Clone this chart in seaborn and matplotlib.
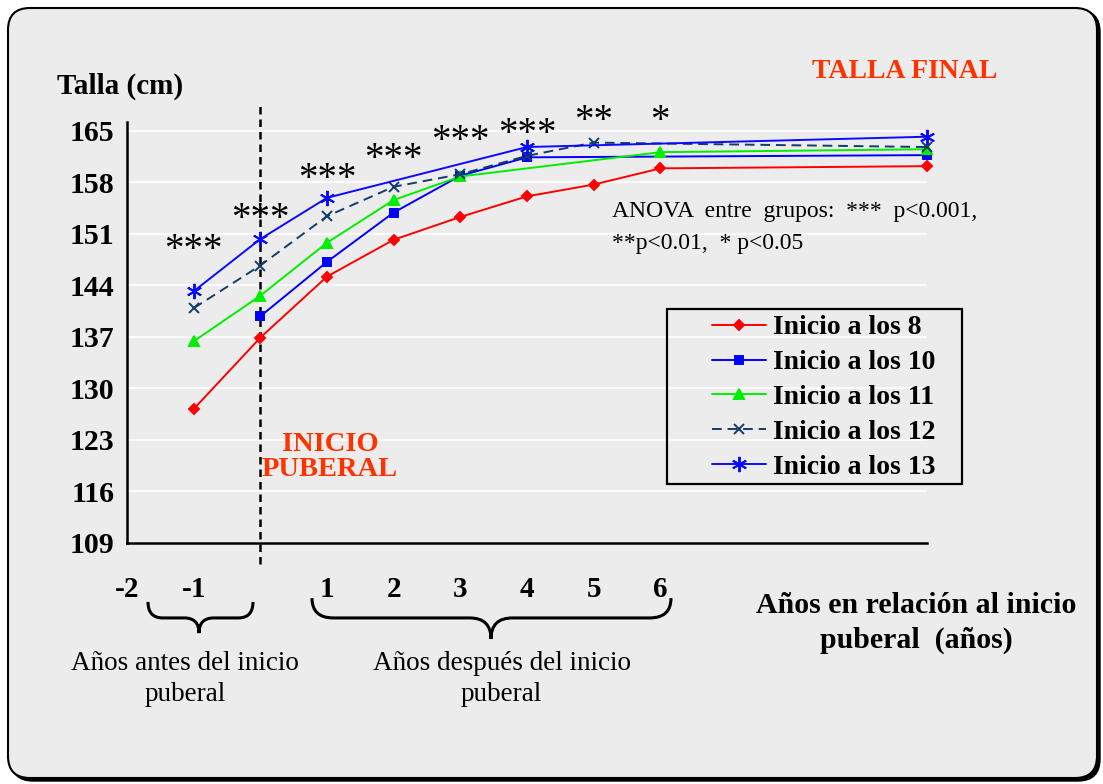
import numpy as np
import pandas as pd
import matplotlib
matplotlib.use("Agg")
import matplotlib.pyplot as plt
import seaborn as sns
from matplotlib.patches import FancyBboxPatch, Rectangle, PathPatch
from matplotlib.path import Path
import matplotlib.transforms as mtransforms

# ---------------- data ----------------
years = [-1, 0, 1, 2, 3, 4, 5, 6, 10]   # 10 = talla final
nan = np.nan
inicio_8 = [127.2, 136.9, 145.2, 150.2, 153.3, 156.1, 157.7, 159.9, 160.2]
inicio_10 = [nan, 139.8, 147.2, 153.9, 158.9, 161.4, nan, nan, 161.7]
inicio_11 = [136.4, 142.6, 149.8, 155.6, 158.8, nan, nan, 162.1, 162.5]
inicio_12 = [140.9, 146.7, 153.4, 157.4, 159.1, 161.6, 163.4, nan, 162.8]
inicio_13 = [143.2, 150.3, 155.9, nan, nan, 162.8, nan, nan, 164.2]

series_names = ["Inicio a los 8", "Inicio a los 10", "Inicio a los 11",
                "Inicio a los 12", "Inicio a los 13"]
y_ticks = [109, 116, 123, 130, 137, 144, 151, 158, 165]
x_label_pos = [-2, -1, 1, 2, 3, 4, 5, 6]
x_label_txt = ["-2", "-1", "1", "2", "3", "4", "5", "6"]
sig_x = [-1, 0, 1, 2, 3, 4, 5, 6]
sig_txt = ["***", "***", "***", "***", "***", "***", "**", "*"]
sig_y = [148.8, 153.0, 158.4, 161.1, 163.5, 164.5, 166.2, 166.2]

# ---------------- style ----------------
sns.set_theme(style="white")
plt.rcParams["font.family"] = ["Liberation Serif", "DejaVu Serif"]
plt.rcParams["text.color"] = "black"
plt.rcParams["axes.labelcolor"] = "black"
plt.rcParams["xtick.color"] = "black"
plt.rcParams["ytick.color"] = "black"

BG = "#ECECEC"
fig = plt.figure(figsize=(11.03, 7.84), dpi=100)
fig.patch.set_facecolor("white")

# rounded frame with shadow (inches)
shadow = FancyBboxPatch((0.11, 0.03), 10.89, 7.71,
                        boxstyle="round,pad=0,rounding_size=0.22",
                        transform=fig.dpi_scale_trans, facecolor="black",
                        edgecolor="black", zorder=-3)
frame = FancyBboxPatch((0.08, 0.06), 10.89, 7.70,
                       boxstyle="round,pad=0,rounding_size=0.22",
                       transform=fig.dpi_scale_trans, facecolor=BG,
                       edgecolor="black", linewidth=1.5, zorder=-2)
fig.patches.extend([shadow, frame])

W, H = 1103, 784
ax_l, ax_r, ax_t, ax_b = 127, 927, 122, 543
ax = fig.add_axes([ax_l / W, (H - ax_b) / H, (ax_r - ax_l) / W, (ax_b - ax_t) / H])
ax.patch.set_alpha(0)

df = pd.DataFrame({"year": years, series_names[0]: inicio_8,
                   series_names[1]: inicio_10, series_names[2]: inicio_11,
                   series_names[3]: inicio_12, series_names[4]: inicio_13})

styles = {
    series_names[0]: dict(color="#FF0000", marker="D", ms=5, ls="-"),
    series_names[1]: dict(color="#0000FF", marker="s", ms=6, ls="-"),
    series_names[2]: dict(color="#00EE00", marker="^", ms=7, ls="-"),
    series_names[3]: dict(color="#123C69", marker="x", ms=7, ls=(0, (5, 3))),
    series_names[4]: dict(color="#0A0AFF", marker=(6, 2, 0), ms=11, ls="-"),
}

for name in series_names:
    st = styles[name]
    sub = df[["year", name]].dropna()
    sns.lineplot(data=sub, x="year", y=name, ax=ax, color=st["color"],
                 marker=st["marker"], markersize=st["ms"], linestyle=st["ls"],
                 linewidth=1.4, markeredgecolor=st["color"],
                 markeredgewidth=1.4, label=name, clip_on=False, zorder=3)

ax.set_xlim(-2, 10)
ax.set_ylim(109, 166.2)
ax.set_yticks(y_ticks)
ax.set_yticklabels([str(v) for v in y_ticks], fontsize=21.5, fontweight="bold")
ax.set_xticks(np.arange(-2, 10.01, 0.5))
ax.set_xticklabels([])
ax.tick_params(axis="y", direction="out", length=6, width=1.3, pad=3, colors="black")
ax.tick_params(axis="x", direction="in", length=7, width=1.3, colors="black")
ax.set_xlabel("")
ax.set_ylabel("")
for s in ["top", "right"]:
    ax.spines[s].set_visible(False)
for s in ["left", "bottom"]:
    ax.spines[s].set_color("black")
    ax.spines[s].set_linewidth(1.8)
for v in y_ticks:
    ax.axhline(v, color="white", lw=1.2, zorder=0)

# vertical dotted line at puberty onset
ax.axvline(0, ymin=-0.05, ymax=1.04, color="black", ls=(0, (3, 2)), lw=1.8,
           clip_on=False, zorder=2)

# x labels (manual)
trans = mtransforms.blended_transform_factory(ax.transData, ax.transAxes)
for xp, t in zip(x_label_pos, x_label_txt):
    ax.text(xp, -0.110, t, transform=trans, ha="center", va="center",
            fontsize=21, fontweight="bold")

# significance stars
for xp, t, yp in zip(sig_x, sig_txt, sig_y):
    ax.text(xp, yp, t, ha="center", va="center", fontsize=28, clip_on=False)

# braces
def brace(x0, x1, xc, ytop, ymid, ybot, dx):
    verts = [(x0, ytop), (x0, ymid), (x0 + dx, ymid),
             (xc - dx, ymid), (xc, ymid), (xc, ybot),
             (xc, ymid), (xc + dx, ymid),
             (x1 - dx, ymid), (x1, ymid), (x1, ytop)]
    codes = [Path.MOVETO, Path.CURVE3, Path.CURVE3,
             Path.LINETO, Path.CURVE3, Path.CURVE3,
             Path.CURVE3, Path.CURVE3,
             Path.LINETO, Path.CURVE3, Path.CURVE3]
    p = PathPatch(Path(verts, codes), transform=trans, fill=False,
                  edgecolor="black", lw=2.2, clip_on=False)
    ax.add_patch(p)

brace(-1.685, -0.11, -0.92, -0.140, -0.178, -0.214, 0.22)
brace(0.775, 6.16, 3.46, -0.131, -0.178, -0.228, 0.32)

ax.text(-1.13, -0.323, "Años antes del inicio\npuberal", transform=trans,
        ha="center", va="center", fontsize=19.5, linespacing=1.3)
ax.text(3.62, -0.323, "Años después del inicio\npuberal", transform=trans,
        ha="center", va="center", fontsize=19.5, linespacing=1.3)

# figure texts
fig.text(916 / W, 1 - 623 / H, "Años en relación al inicio\npuberal  (años)",
         ha="center", va="center", fontsize=21.5, fontweight="bold", linespacing=1.35)
fig.text(120 / W, 1 - 86 / H, "Talla (cm)", ha="center", va="center",
         fontsize=21, fontweight="bold")
fig.text(905 / W, 1 - 72 / H, "TALLA FINAL", ha="center", va="center",
         fontsize=20, fontweight="bold", color="#FF3300")
fig.text(330 / W, 1 - 457 / H, "INICIO\nPUBERAL", ha="center", va="center",
         fontsize=20.5, fontweight="bold", color="#FF3300", linespacing=0.95)
fig.text(612 / W, 1 - 212 / H, "ANOVA  entre  grupos:  ***  p<0.001,",
         ha="left", va="center", fontsize=17)
fig.text(612 / W, 1 - 243 / H, "**p<0.01,  * p<0.05",
         ha="left", va="center", fontsize=17)

# legend
lx0, lx1, ly0, ly1 = 667, 962, 309, 484
fig.patches.append(Rectangle((lx0 / W, 1 - ly1 / H), (lx1 - lx0) / W, (ly1 - ly0) / H,
                             transform=fig.transFigure, fill=False,
                             edgecolor="black", lw=1.6, zorder=5))
leg = ax.legend(loc="upper left", bbox_to_anchor=((712 - ax_l) / (ax_r - ax_l),
                                                  (ax_b - 315) / (ax_b - ax_t)),
                frameon=False, borderpad=0, borderaxespad=0, handlelength=1.95,
                handletextpad=0.25, labelspacing=0.34,
                prop={"size": 20, "weight": "bold"})

fig.savefig("out.png", dpi=100, facecolor=fig.get_facecolor())
